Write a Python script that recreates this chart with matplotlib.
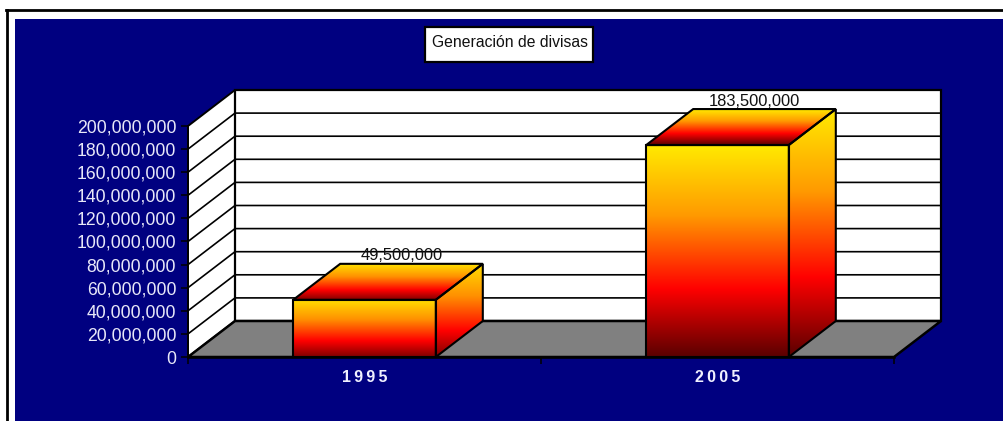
import numpy as np
import matplotlib
matplotlib.use("Agg")
import matplotlib.pyplot as plt
from matplotlib.patches import Polygon, Rectangle
from matplotlib.colors import LinearSegmentedColormap
from matplotlib.transforms import IdentityTransform

categories = ["1995", "2005"]
values = [49500000, 183500000]
y_ticks = list(range(0, 200000001, 20000000))
title = "Generación de divisas"

W, H = 1004, 421
NAVY = "#000080"
plt.rcParams["font.family"] = ["Liberation Sans", "DejaVu Sans"]
fig = plt.figure(figsize=(W / 100, H / 100), dpi=100, facecolor="white")
px = IdentityTransform()

def Y(y):
    return H - y

# background, frame
fig.add_artist(Rectangle((15, 0), W - 15, Y(19), transform=px, fc=NAVY, ec="none", zorder=-5))
fig.add_artist(plt.Line2D([7, 7], [0, Y(10)], transform=px, color="black", lw=2.0, zorder=-4))
fig.add_artist(plt.Line2D([6, W], [Y(10), Y(10)], transform=px, color="black", lw=2.0, zorder=-4))

# front plane axes
L, R, T, B = 188, 894, 126, 357
ax = fig.add_axes([L / W, (H - B) / H, (R - L) / W, (B - T) / H])
ax.set_xlim(0, len(categories))
ax.set_ylim(0, 200000000)
ax.patch.set_alpha(0)
DX, DY = 47, 36  # depth shift, pixels

def P(x, y):
    return tuple(ax.transData.transform((x, y)))

def S(p):
    return (p[0] + DX, p[1] + DY)

def poly(pts, fc, ec="black", lw=1.4, z=1):
    ax.add_patch(Polygon(pts, closed=True, transform=px, fc=fc, ec=ec, lw=lw,
                         clip_on=False, zorder=z, joinstyle="miter"))

xmax = len(categories)
ymax = y_ticks[-1]
# walls and floor
poly([P(0, 0), P(0, ymax), S(P(0, ymax)), S(P(0, 0))], "white", z=1)
poly([S(P(0, 0)), S(P(0, ymax)), S(P(xmax, ymax)), S(P(xmax, 0))], "white", lw=1.6, z=1)
poly([P(0, 0), P(xmax, 0), S(P(xmax, 0)), S(P(0, 0))], "#808080", lw=1.8, z=1.1)
for t in y_ticks[1:-1]:
    a, b, c = P(0, t), S(P(0, t)), S(P(xmax, t))
    ax.plot([a[0], b[0], c[0]], [a[1], b[1], c[1]], transform=px, color="black", lw=1.2,
            clip_on=False, zorder=1.05, solid_joinstyle="miter")

grad_cmap = LinearSegmentedColormap.from_list(
    "g", [(0, "#ffea00"), (0.33, "#ff9a00"), (0.68, "#ff0000"), (1, "#5a0000")])
grad_short = LinearSegmentedColormap.from_list(
    "s", [(0, "#ffe000"), (0.35, "#ff9000"), (0.72, "#ff0000"), (1, "#800000")])
ramp = np.linspace(0, 1, 256).reshape(-1, 1)

def shade(pts, cmap, z):
    pts = np.array(pts)
    x0, y0 = pts.min(axis=0)
    x1, y1 = pts.max(axis=0)
    im = ax.imshow(ramp, cmap=cmap, extent=(x0, x1, y0, y1), origin="upper", aspect="auto",
                   transform=px, zorder=z, interpolation="bilinear")
    clip = Polygon(pts, closed=True, transform=px)
    im.set_clip_path(clip)
    im.set_clip_box(fig.bbox)
    poly(pts, "none", z=z + 0.01, lw=1.5)

bar_w = 0.404
for i, v in enumerate(values):
    x0, x1 = i + 0.5 - bar_w / 2, i + 0.5 + bar_w / 2
    cmap = grad_cmap if v > 100000000 else grad_short
    shade([P(x0, 0), P(x1, 0), P(x1, v), P(x0, v)], cmap, 3)
    shade([P(x1, 0), S(P(x1, 0)), S(P(x1, v)), P(x1, v)], cmap, 3)
    shade([P(x0, v), P(x1, v), S(P(x1, v)), S(P(x0, v))], cmap, 3)
    lx, ly = P(i + 0.5, v)
    ax.text(lx + 37, ly + 44, f"{v:,}", transform=px, ha="center", va="center",
            fontsize=11.9, color="#111111", zorder=5, clip_on=False)

ax.set_xlim(0, xmax)
ax.set_ylim(0, ymax)
for s in ("top", "right"):
    ax.spines[s].set_visible(False)
ax.spines["left"].set_linewidth(1.4)
ax.spines["bottom"].set_linewidth(1.8)
ax.spines["left"].set_zorder(2)
ax.spines["bottom"].set_zorder(4)
ax.set_yticks(y_ticks)
ax.set_yticklabels([f"{t:,}" for t in y_ticks])
ax.set_xticks(range(xmax + 1))
ax.set_xticklabels([])
ax.set_xticks([i + 0.5 for i in range(xmax)], minor=True)
ax.set_xticklabels(["\u2009".join(c) for c in categories], minor=True,
                   fontsize=11.5, fontweight="bold", color="#f0f0ff")
ax.tick_params(axis="x", which="minor", length=0, pad=9)
ax.tick_params(axis="x", which="major", length=5, width=1.1, color="black")
ax.tick_params(axis="y", length=5, width=1.1, color="black", labelsize=12.7,
               labelcolor="#e8e8f8", pad=3.5)

# title box
fig.add_artist(Rectangle((425, Y(62)), 168, 35, transform=px, fc="white", ec="black", lw=1.6, zorder=6))
fig.text(509.5, Y(42.5), title, transform=px, ha="center", va="center", fontsize=11.3,
         color="#111111", zorder=7)

fig.savefig("out.png", dpi=100)
